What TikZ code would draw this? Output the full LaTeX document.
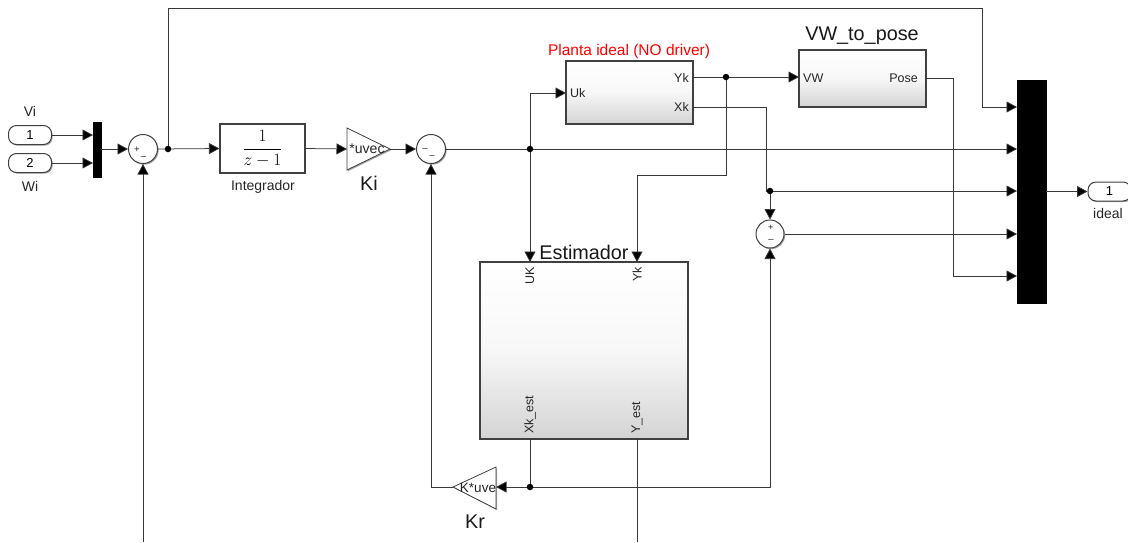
\documentclass[tikz,border=0pt]{standalone}
\usepackage{fontspec}
\setmainfont{Liberation Sans}
\usetikzlibrary{arrows.meta,shadows,calc}
\definecolor{wirecol}{gray}{0.22}
\definecolor{blockedge}{gray}{0.25}
\newcommand{\fs}[1]{\fontsize{#1}{#1}\selectfont}
\tikzset{
  x=1pt,y=-1pt,
  softshadow/.style={drop shadow={shadow xshift=1.2pt,shadow yshift=-1.2pt,opacity=.35,fill=black}},
  wire/.style={draw=wirecol,line width=0.75pt},
  arrowwire/.style={wire,-{Triangle[length=10.5pt,width=11pt,fill=black]}},
  subsystem/.style={draw=blockedge,line width=1.1pt,rectangle,inner sep=0pt,top color=white,bottom color=black!17,middle color=black!3,softshadow},
  muxbar/.style={draw=black,fill=black,rectangle,inner sep=0pt,softshadow},
  sumblock/.style={draw=blockedge,line width=1pt,circle,fill=white,inner sep=0pt,minimum size=29pt,softshadow},
  portblock/.style={draw=blockedge,line width=1pt,rectangle,rounded corners=8pt,fill=white,inner sep=0pt,minimum width=43pt,minimum height=19pt,font=\fs{13},softshadow},
  gainshape/.style={draw=blockedge,line width=0.8pt,fill=white,line join=miter,softshadow},
  junction/.style={circle,fill=black,inner sep=0pt,minimum size=6.5pt},
  portlabel/.style={inner sep=0pt,font=\fs{12.5},text=black!85},
  smalllabel/.style={inner sep=0pt,font=\fs{14},text=black!85},
  title/.style={inner sep=0pt,font=\fs{19.8},text=black!90},
  signlabel/.style={inner sep=0pt,font=\fs{9.5},text=black!85},
}
\begin{document}
\begin{tikzpicture}
\clip (0,0) rectangle (1128,542);
\fill[white] (0,0) rectangle (1128,542);

% blocks
\node[portblock] (in1) at (30,135) {1};
\node[portblock] (in2) at (30,163) {2};
\node[muxbar,minimum width=8pt,minimum height=55pt] (muxin) at (97,149.5) {};
\node[sumblock] (sum1) at (143,149) {};
\node[draw=blockedge,line width=1.1pt,rectangle,inner sep=0pt,fill=white,minimum width=85pt,minimum height=49pt,softshadow] (integ) at (262.5,148.5) {\fs{18}$\displaystyle\frac{1}{z-1}$};
\node[sumblock] (sum2) at (431,149) {};
\node[subsystem,minimum width=127pt,minimum height=63pt] (planta) at (629.5,92.5) {};
\node[subsystem,minimum width=127pt,minimum height=57pt] (vw) at (862.5,78.5) {};
\node[subsystem,minimum width=208pt,minimum height=177pt] (est) at (584,350.5) {};
\node[sumblock,minimum size=28pt] (sum3) at (770,234) {};
\node[muxbar,minimum width=29pt,minimum height=223pt] (muxout) at (1031.5,191.5) {};
\node[portblock] (out1) at (1109.5,191.5) {1};

% gains
\coordinate (kiin) at (347,149);
\coordinate (kiout) at (390,149);
\draw[gainshape] (347,128) -- (390,149) -- (347,170) -- cycle;
\node[inner sep=0pt,font=\fs{14},text=black!85] (kitext) at (367,149) {*uvec};
\coordinate (krin) at (496,487);
\coordinate (krout) at (453,487);
\draw[gainshape] (496,467) -- (453,487) -- (496,509) -- cycle;
\node[inner sep=0pt,font=\fs{13.5},text=black!85] (krtext) at (478,488) {K*uve};

% helper points
\coordinate (j1) at (168,149);
\coordinate (j2) at (530,149);
\coordinate (j3) at (726,77);
\coordinate (j4) at (770,191);
\coordinate (j5) at (530,487);
\coordinate (fbend) at (143,542);
\coordinate (yend) at (637,542);
\coordinate (m1) at (1017,107);
\coordinate (m2) at (1017,149);
\coordinate (m3) at (1017,191);
\coordinate (m4) at (1017,234);
\coordinate (m5) at (1017,276);
\coordinate (ukin) at (566,93);
\coordinate (ykout) at (693,77);
\coordinate (xkout) at (693,107);
\coordinate (vwin) at (799,77);
\coordinate (poseout) at (926,78);
\coordinate (estuk) at (530,262);
\coordinate (estyk) at (637,262);
\coordinate (estxk) at (530,439);
\coordinate (estye) at (637,439);
\coordinate (in1mux) at (93,135);
\coordinate (in2mux) at (93,163);

% connectors
\draw[arrowwire] (in1.east) -- (in1mux);
\draw[arrowwire] (in2.east) -- (in2mux);
\draw[arrowwire] (muxin.east |- sum1.west) -- (sum1.west);
\draw[arrowwire] (sum1.east) -- (integ.west);
\draw[arrowwire] (integ.east) -- (kiin);
\draw[arrowwire] (kiout) -- (sum2.west);
\draw[arrowwire] (sum2.east) -- (m2);
\draw[arrowwire] (j1) -- (168,8) -- (982,8) -- (982,107) -- (m1);
\draw[arrowwire] (j2) -- (530,93) -- (ukin);
\draw[arrowwire] (j2) -- (estuk);
\draw[arrowwire] (ykout) -- (vwin);
\draw[arrowwire] (j3) -- (726,175) -- (637,175) -- (estyk);
\draw[arrowwire] (xkout) -- (766,107) -- (766,191) -- (m3);
\draw[arrowwire] (j4) -- (sum3.north);
\draw[arrowwire] (sum3.east) -- (m4);
\draw[arrowwire] (poseout) -- (953,78) -- (953,276) -- (m5);
\draw[arrowwire] (muxout.east |- out1.west) -- (out1.west);
\draw[wire] (estxk) -- (j5);
\draw[arrowwire] (j5) -- (krin);
\draw[arrowwire] (j5) -- (770,487) -- (sum3.south);
\draw[arrowwire] (krout) -- (431,487) -- (sum2.south);
\draw[wire] (estye) -- (yend);
\draw[arrowwire] (fbend) -- (sum1.south);

% junctions
\node[junction] (dot1) at (j1) {};
\node[junction] (dot2) at (j2) {};
\node[junction] (dot3) at (j3) {};
\node[junction] (dot4) at (j4) {};
\node[junction] (dot5) at (j5) {};

% sum signs
\node[signlabel] (s1p) at (137,150) {+};
\node[signlabel] (s1m) at (143.5,158) {–};
\node[signlabel] (s2p) at (425,150) {–};
\node[signlabel] (s2m) at (432,157) {–};
\node[signlabel] (s3p) at (771,227.5) {+};
\node[signlabel] (s3m) at (771,241) {–};

% labels
\node[smalllabel] (lvi) at (30,111) {Vi};
\node[smalllabel] (lwi) at (30,186) {Wi};
\node[smalllabel] (lint) at (263,187) {Integrador};
\node[title] (lki) at (369,183) {Ki};
\node[title] (lkr) at (475,522) {Kr};
\node[smalllabel] (lideal) at (1108,213) {ideal};
\node[inner sep=0pt,font=\fs{15.5},text=red] (lplanta) at (629,51) {Planta ideal (NO driver)};
\node[title] (lvw) at (862,36) {VW\_to\_pose};
\node[title] (lest) at (584,252) {Estimador};

% port labels
\node[portlabel,anchor=west] (puk) at (570,93) {Uk};
\node[portlabel,anchor=east] (pyk) at (689,78) {Yk};
\node[portlabel,anchor=east] (pxk) at (689,107) {Xk};
\node[portlabel,anchor=west] (pvw) at (803,78) {VW};
\node[portlabel,anchor=east] (ppose) at (918,78) {Pose};
\node[portlabel,rotate=90,anchor=east] (euk) at (530,267) {UK};
\node[portlabel,rotate=90,anchor=east] (eyk) at (637,267) {Yk};
\node[portlabel,rotate=90,anchor=west] (exk) at (530,434) {Xk\_est};
\node[portlabel,rotate=90,anchor=west] (eye) at (637,434) {Y\_est};
\end{tikzpicture}
\end{document}
